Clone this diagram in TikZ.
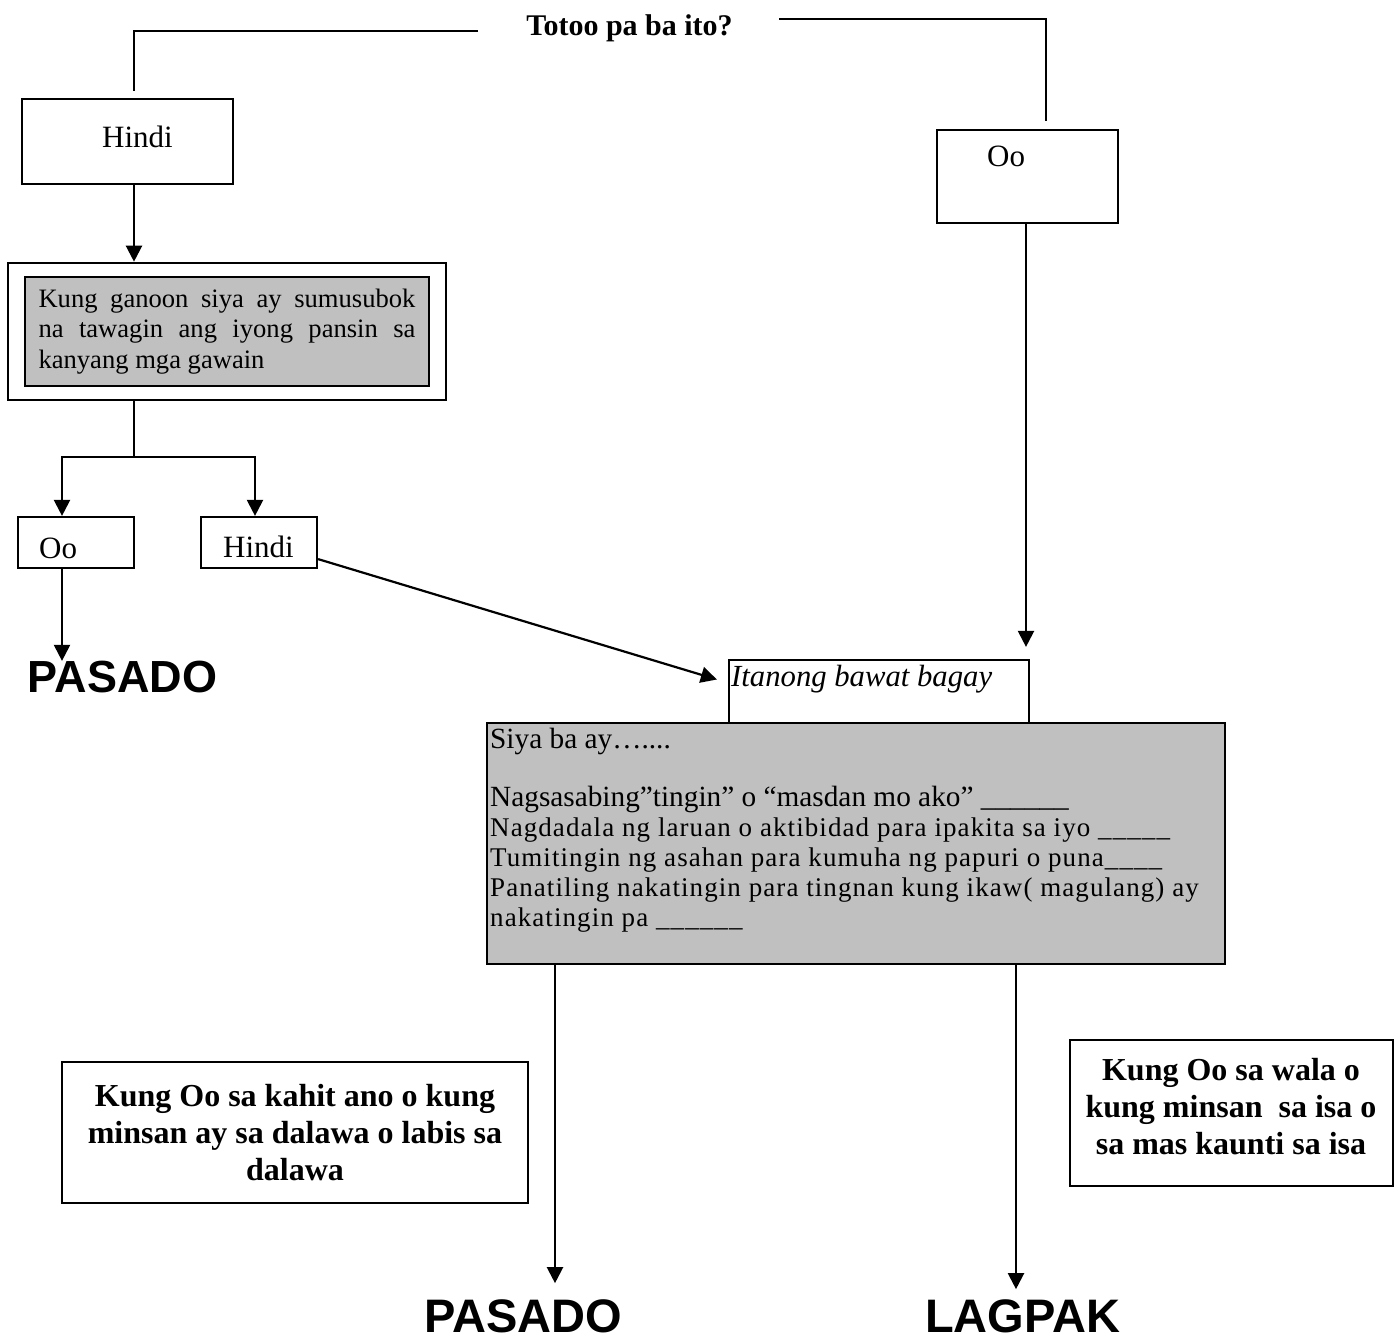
\documentclass[tikz,border=0pt]{standalone}
\usepackage{fontspec}
\setmainfont{Liberation Serif}
\setsansfont{Liberation Sans}
\usetikzlibrary{arrows.meta,calc}
\definecolor{boxgray}{RGB}{192,192,192}
\begin{document}
\begin{tikzpicture}[x=1pt,y=-1pt,
  box/.style={draw, line width=2.2pt, inner sep=0pt, fill=white},
  conn/.style={line width=2.2pt},
  arr/.style={line width=2.2pt,-{Triangle[length=16pt,width=16pt]}},
  txt/.style={inner sep=0pt, font=\fontsize{31}{36}\selectfont},
  qline/.style={inner sep=0pt, anchor=base west, font=\fontsize{29.3}{30}\selectfont},
  qspaced/.style={inner sep=0pt, anchor=base west, font=\fontsize{27}{30}\selectfont\addfontfeature{LetterSpace=4.0}},
  bigword/.style={inner sep=0pt, font=\sffamily\bfseries\fontsize{47}{52}\selectfont},
  boldtxt/.style={inner sep=0pt, align=center, anchor=north, font=\bfseries\fontsize{32}{37}\selectfont}]
\useasboundingbox (0,0) rectangle (1400,1341);

% title
\node[inner sep=0pt, anchor=base, font=\bfseries\fontsize{30}{36}\selectfont] (title) at (629.5,35) {Totoo pa ba ito?};
\coordinate (tl) at (478,31);
\coordinate (tr) at (779,19);
\coordinate (c134) at (134,0);
\coordinate (c1046) at (1046,0);
\coordinate (c1026) at (1026,0);
\coordinate (xl) at (62,0);
\coordinate (xr) at (255,0);
\coordinate (br) at (134,457);
\coordinate (c555) at (555,0);
\coordinate (c1016) at (1016,0);

% left branch
\node[box, minimum width=211pt, minimum height=85pt] (h1) at (127.5,141.5) {};
\node[txt, anchor=base] (h1t) at (137.5,147) {Hindi};

\node[box, line width=2.6pt, minimum width=438pt, minimum height=137pt] (k) at (227,331.5) {};
\node[draw, line width=2.2pt, fill=boxgray, minimum width=404pt, minimum height=109pt,
      text width=377pt, inner xsep=13.5pt, inner ysep=0pt, align=justify,
      font=\fontsize{26.6}{30.5}\selectfont] (kg) at (227,331.5)
      {Kung ganoon siya ay sumusubok\linebreak na tawagin ang iyong pansin sa\linebreak kanyang mga gawain};

\node[box, minimum width=116pt, minimum height=51pt] (o1) at (76,542.5) {};
\node[txt, anchor=base west] (o1t) at (39,558) {Oo};
\node[box, minimum width=116pt, minimum height=51pt] (h2) at (259,542.5) {};
\node[txt, anchor=base west] (h2t) at (223,557) {Hindi};

\node[bigword, font=\sffamily\bfseries\fontsize{45}{50}\selectfont] (p1) at (122.5,677) {PASADO};

% right branch
\node[box, minimum width=181pt, minimum height=93pt] (o2) at (1027.5,176.5) {};
\node[txt, anchor=base west] (o2t) at (987,166) {Oo};

% question boxes
\node[draw, line width=2.2pt, fill=boxgray, minimum width=738pt, minimum height=241pt, inner sep=0pt] (q) at (856,843.5) {};
\node[box, minimum width=300pt, minimum height=63pt] (it) at (879,691.5) {};
\node[inner sep=0pt, anchor=base west, font=\itshape\fontsize{30.7}{36}\selectfont] (itt) at (731,686) {Itanong bawat bagay};

\node[qline] (q1) at (490,748) {Siya ba ay…....};
\node[qline] (q2) at (490,806) {Nagsasabing”tingin” o “masdan mo ako” \_\_\_\_\_\_};
\node[qspaced] (q3) at (490,836) {Nagdadala ng laruan o aktibidad para ipakita sa iyo \_\_\_\_\_};
\node[qspaced] (q4) at (490,866) {Tumitingin ng asahan para kumuha ng papuri o puna\_\_\_\_};
\node[qspaced] (q5) at (490,896) {Panatiling nakatingin para tingnan kung ikaw( magulang) ay};
\node[qspaced] (q6) at (490,926) {nakatingin pa \_\_\_\_\_\_};

% bottom
\node[box, line width=1.8pt, minimum width=466pt, minimum height=141pt] (bl) at (295,1132.5) {};
\node[boldtxt] (blt) at (295,1084.4) {Kung Oo sa kahit ano o kung\\minsan ay sa dalawa o labis sa\\dalawa};
\node[box, line width=1.8pt, minimum width=323pt, minimum height=146pt] (bx) at (1231.5,1113) {};
\node[boldtxt] (bxt) at (1231,1058.4) {Kung Oo sa wala o\\kung minsan~ sa isa o\\sa mas kaunti sa isa};

\node[bigword] (p2) at (523,1316) {PASADO};
\node[bigword] (lg) at (1022.5,1316) {LAGPAK};

% connectors
\draw[conn] (tl) -| ($(h1.north -| c134)+(0,-7)$);
\draw[conn] (tr) -| ($(o2.north -| c1046)+(0,-8)$);
\draw[arr] (h1.south -| c134) -- (k.north -| c134);
\draw[conn] (k.south -| c134) -- (br);
\draw[arr] (br) -| (o1.north -| xl);
\draw[arr] (br) -| (h2.north -| xr);
\draw[arr] (o1.south -| xl) -- (p1.north -| xl);
\draw[arr] ($(h2.south east)+(0,-10)$) -- ($(it.west)+(-11,-12)$);
\draw[arr] (o2.south -| c1026) -- ($(it.north -| c1026)+(0,-12)$);
\draw[arr] (q.south -| c555) -- ($(p2.north -| c555)+(0,-16)$);
\draw[arr] (q.south -| c1016) -- ($(lg.north -| c1016)+(0,-10)$);
\end{tikzpicture}
\end{document}
